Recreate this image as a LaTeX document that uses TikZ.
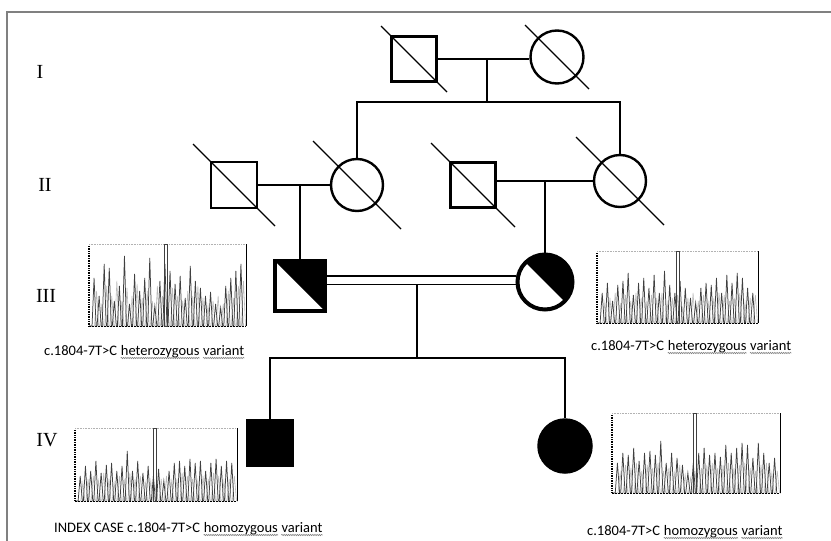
\documentclass[tikz,border=0pt]{standalone}
\usepackage{fontspec}
\setmainfont{Carlito}
\newfontfamily\romfont{Liberation Serif}
\usetikzlibrary{positioning,calc,decorations.pathmorphing}

\tikzset{
  male/.style={draw, line width=2.4pt, minimum size=45pt, inner sep=0pt},
  female/.style={draw, circle, line width=2.4pt, minimum size=53pt, inner sep=0pt},
  carrier/.style={line width=4pt, path picture={\fill (path picture bounding box.north west) -- (path picture bounding box.north east) -- (path picture bounding box.south east) -- cycle;}},
  affected/.style={fill=black, line width=1.5pt},
  link/.style={line width=1.3pt},
  gone/.style={line width=1.1pt},
  gen/.style={font=\romfont\fontsize{20}{24}\selectfont, inner sep=0pt},
  caption/.style={font=\fontsize{14.5}{17}\selectfont, inner sep=0pt},
  squig/.style={decorate, decoration={snake, amplitude=0.6pt, segment length=2.2pt}, gray, line width=0.6pt}
}

\newcommand{\chromat}[7]{%
  \pgfmathsetmacro\chromstep{(#3-#1)/31}
  \draw[gray!60, densely dotted, line width=0.6pt] (#1,#2) -- (#3,#2);
  \draw[gray!55, line width=0.6pt] (#1,#4) \foreach \h [count=\i] in {#7} { -- ({#1+(\i+0.1)*\chromstep},#4) -- ({#1+(\i+0.5)*\chromstep},{#4-\h}) -- ({#1+(\i+0.9)*\chromstep},#4) };
  \draw[black!75, line width=0.75pt] (#1,#4) \foreach \h [count=\i] in {#6} { -- ({#1+(\i-0.4)*\chromstep},#4) -- ({#1+\i*\chromstep},{#4-\h}) -- ({#1+(\i+0.4)*\chromstep},#4) };
  \draw[line width=1.5pt, dash pattern=on 1pt off 0.7pt] (#1,#2+2) -- (#1,#4);
  \draw[line width=0.8pt] (#3,#2) -- (#3,#4);
  \draw[line width=0.9pt, dash pattern=on 2pt off 1pt] (#1,#4) -- (#3,#4);
  \draw[black!75, line width=0.7pt] (#5,#2) rectangle (#5+3,#4);
}

\newcommand{\varlabel}[5]{%
  \node[caption, anchor=base west] (#1a) at (#2) {#3};
  \node[caption, base right=3.3pt of #1a] (#1b) {#4};
  \node[caption, base right=3.3pt of #1b] (#1c) {#5};
  \draw[squig] ([yshift=-3pt]#1b.base west) -- ([yshift=-3pt]#1b.base east);
  \draw[squig] ([yshift=-3pt]#1c.base west) -- ([yshift=-3pt]#1c.base east);
}

\begin{document}
\begin{tikzpicture}[x=1pt, y=-1pt]
\useasboundingbox (0,0) rectangle (831,541);
\fill[white] (0,0) rectangle (831,541);
\draw[gray, line width=1.2pt] (7,541) -- (7,12) -- (831,12);

\node[gen] (genI) at (40,72) {I};
\node[gen] (genII) at (45,185) {II};
\node[gen] (genIII) at (46,296) {III};
\node[gen] (genIV) at (47,440) {IV};

\node[male] (I1) at (414,59) {};
\node[female] (I2) at (557,57) {};

\node[male, minimum size=46pt] (II1) at (234,185) {};
\node[female, minimum size=52pt] (II2) at (357,185) {};
\node[male] (II3) at (473,185) {};
\node[female, minimum size=52pt] (II4) at (620,181) {};

\node[male, carrier, minimum size=50pt] (III1) at (300,286) {};
\node[female, carrier, minimum size=55pt] (III2) at (545,282) {};

\node[male, affected, minimum size=46pt] (IV1) at (270,443) {};
\node[female, affected, minimum size=54pt] (IV2) at (565,446) {};

\foreach \p/\d in {I1/33, I2/32, II1/41, II2/44, II3/42, II4/44}
  \draw[gone] ($(\p.center)+(-\d,-\d)$) -- ($(\p.center)+(\d,\d)$);

\coordinate (sibI) at (487,102);
\coordinate (sibIII) at (417,358);

\draw[link] (I1.east) -- (I1.east -| I2.west);
\draw[link] (sibI |- I1.east) -- (sibI);
\draw[link] (II2.north) |- (sibI) -| (II4.north);

\draw[link] (II1) -- (II2);
\draw[link] (III1.north |- II1) -- (III1.north);
\draw[link] (II4.west) -- (II4.west -| II3.east);
\draw[link] (III2.north |- II4) -- (III2.north);

\draw[link] ([yshift=10pt]III1.east) -- ([yshift=10pt]III1.east -| III2.west);
\draw[link] ([yshift=1.5pt]III1.east) -- ([yshift=1.5pt]III1.east -| III2.west);
\draw[link] ([yshift=1.5pt]III1.east -| sibIII) -- (sibIII);
\draw[link] (IV1.north) |- (sibIII) -| (IV2.north);

\chromat{89}{244}{246}{326}{164}{48,30,62,58,25,40,70,22,52,35,48,68,20,45,62,55,42,50,28,60,45,38,30,34,22,18,40,48,55,62}{35,20,40,30,45,25,38,30,42,28,35,25,40,30,22,38,30,25,35,30,40,28,20,25,30,22,35,28,40,45}
\chromat{597}{251}{758}{323}{676}{30,40,22,38,42,50,28,40,45,35,48,30,52,38,30,42,35,25,20,35,40,38,45,30,48,40,50,45,35,30}{20,25,30,18,28,22,30,25,20,28,25,30,20,25,28,15,25,30,22,28,20,25,30,28,22,25,30,20,25,28}
\chromat{75}{428}{237}{501}{153}{25,35,30,40,28,36,38,30,35,50,30,40,28,35,25,32,20,30,38,40,35,42,38,40,30,38,42,35,40,38}{18,22,25,20,28,22,18,25,20,28,22,25,18,20,15,22,25,20,22,28,25,22,20,25,22,28,25,20,22,25}
\chromat{612}{413}{780}{493}{693}{30,40,38,45,32,40,42,38,52,30,40,35,28,20,30,40,45,38,40,36,48,40,45,50,48,35,50,40,30,35}{20,28,25,30,22,28,25,30,22,25,20,28,18,15,22,25,28,30,25,28,30,25,28,30,25,22,28,30,20,22}

\varlabel{capIIIl}{44,355}{c.1804-7T>C}{heterozygous}{variant}
\varlabel{capIIIr}{591,350}{c.1804-7T>C}{heterozygous}{variant}
\varlabel{capIVl}{54,532}{INDEX CASE c.1804-7T>C}{homozygous}{variant}
\varlabel{capIVr}{587,535}{c.1804-7T>C}{homozygous}{variant}
\end{tikzpicture}
\end{document}
